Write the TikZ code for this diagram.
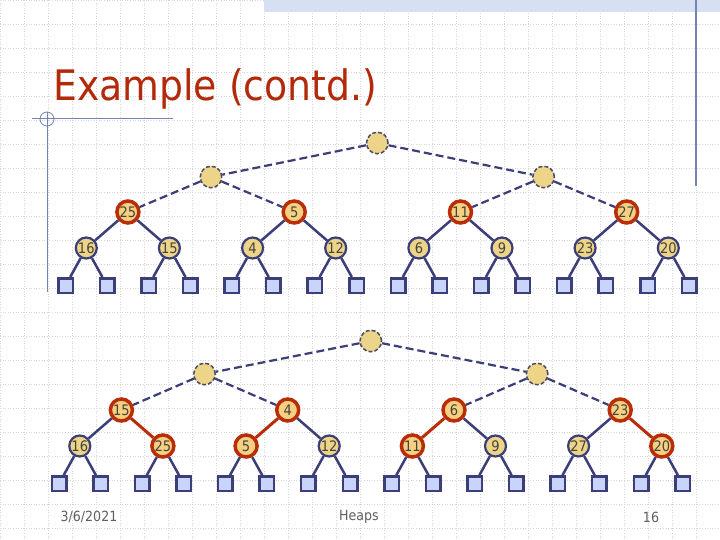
\documentclass[tikz,border=0pt]{standalone}
\usepackage{fontspec}
\setmainfont{DejaVu Sans}[FakeStretch=0.9]
\definecolor{heapnavy}{RGB}{60,62,120}
\definecolor{swapred}{RGB}{185,45,8}
\definecolor{nodefill}{RGB}{236,212,136}
\definecolor{swapfill}{RGB}{244,208,130}
\definecolor{leaffill}{RGB}{200,212,250}
\definecolor{ghostgray}{RGB}{75,75,100}
\definecolor{numgray}{RGB}{70,66,60}
\definecolor{titlered}{RGB}{178,42,10}
\definecolor{gridgray}{RGB}{214,214,220}
\definecolor{decoblue}{RGB}{115,132,178}
\definecolor{bandblue}{RGB}{214,224,242}
\begin{document}
\begin{tikzpicture}[x=1pt,y=-1pt,
  heapnode/.style={circle,draw=heapnavy,line width=2.2pt,fill=nodefill,minimum size=21pt,inner sep=0pt,text=numgray,font=\fontsize{14.5}{14.5}\selectfont},
  swapnode/.style={heapnode,draw=swapred,line width=3.5pt,fill=swapfill,minimum size=22pt},
  ghostnode/.style={circle,draw=ghostgray,dash pattern=on 4pt off 2pt,line width=1.5pt,fill=nodefill,minimum size=21.5pt},
  leafbox/.style={rectangle,draw=heapnavy,line width=2.5pt,fill=leaffill,minimum size=14.5pt,inner sep=0pt},
  treeedge/.style={draw=heapnavy,line width=2.5pt},
  swapedge/.style={draw=swapred,line width=3pt},
  ghostedge/.style={draw=heapnavy,line width=2.2pt,dash pattern=on 8pt off 4pt},
  gridline/.style={draw=gridgray,line width=0.7pt,dash pattern=on 1pt off 1.6pt},
  footnote/.style={text=numgray!85,font=\fontsize{14}{14}\selectfont,inner sep=0pt}]
\useasboundingbox (0,0) rectangle (720,540);
\fill[white] (0,0) rectangle (720,540);
% background grid and slide decoration
\foreach \gx in {0,24,...,720} \draw[gridline] (\gx,0) -- (\gx,540);
\foreach \gy in {0,24,...,528} \draw[gridline] (0,\gy) -- (720,\gy);
\fill[bandblue] (264,0) rectangle (720,12);
\draw[decoblue,line width=1.2pt] (696,0) -- (696,186);
\draw[decoblue,line width=1pt] (32,119) -- (173,119);
\draw[decoblue,line width=0.8pt] (47,119) circle (7);
\draw[decoblue,line width=1pt] (47,112) -- (47,292);
\node[anchor=base west,inner sep=0pt,text=titlered,font=\fontsize{42}{42}\selectfont] (title) at (53,101) {Example (contd.)};

% first heap
\node[ghostnode] (t1r) at (377.3,143) {};
\node[ghostnode] (t1a) at (211,177) {};
\node[ghostnode] (t1b) at (543.6,177) {};
\node[swapnode] (t1c1) at (127.9,212) {25};
\node[swapnode] (t1c2) at (294.2,212) {5};
\node[swapnode] (t1c3) at (460.5,212) {11};
\node[swapnode] (t1c4) at (626.7,212) {27};
\node[heapnode] (t1d1) at (86.3,248) {16};
\node[heapnode] (t1d2) at (169.4,248) {15};
\node[heapnode] (t1d3) at (252.6,248) {4};
\node[heapnode] (t1d4) at (335.7,248) {12};
\node[heapnode] (t1d5) at (418.9,248) {6};
\node[heapnode] (t1d6) at (502,248) {9};
\node[heapnode] (t1d7) at (585.1,248) {23};
\node[heapnode] (t1d8) at (668.3,248) {20};
\draw[ghostedge] (t1r) -- (t1a);
\draw[ghostedge] (t1r) -- (t1b);
\draw[ghostedge] (t1a) -- (t1c1);
\draw[ghostedge] (t1a) -- (t1c2);
\draw[ghostedge] (t1b) -- (t1c3);
\draw[ghostedge] (t1b) -- (t1c4);
\draw[treeedge] (t1c1) -- (t1d1);
\draw[treeedge] (t1c1) -- (t1d2);
\draw[treeedge] (t1c2) -- (t1d3);
\draw[treeedge] (t1c2) -- (t1d4);
\draw[treeedge] (t1c3) -- (t1d5);
\draw[treeedge] (t1c3) -- (t1d6);
\draw[treeedge] (t1c4) -- (t1d7);
\draw[treeedge] (t1c4) -- (t1d8);
\foreach \i in {1,...,8} {
  \path (t1d\i) ++(-20.8,37.5) node[leafbox] (t1l\i) {}
        (t1d\i) ++(20.8,37.5) node[leafbox] (t1m\i) {};
  \draw[treeedge] (t1d\i) -- (t1l\i);
  \draw[treeedge] (t1d\i) -- (t1m\i);
}

% second heap, after the swaps
\node[ghostnode] (t2r) at (370.8,341) {};
\node[ghostnode] (t2a) at (204.5,374) {};
\node[ghostnode] (t2b) at (537.1,374) {};
\node[swapnode] (t2c1) at (121.4,410) {15};
\node[swapnode] (t2c2) at (287.7,410) {4};
\node[swapnode] (t2c3) at (454,410) {6};
\node[swapnode] (t2c4) at (620.2,410) {23};
\node[heapnode] (t2d1) at (79.8,446) {16};
\node[swapnode] (t2d2) at (162.9,446) {25};
\node[swapnode] (t2d3) at (246.1,446) {5};
\node[heapnode] (t2d4) at (329.2,446) {12};
\node[swapnode] (t2d5) at (412.4,446) {11};
\node[heapnode] (t2d6) at (495.5,446) {9};
\node[heapnode] (t2d7) at (578.6,446) {27};
\node[swapnode] (t2d8) at (661.8,446) {20};
\draw[ghostedge] (t2r) -- (t2a);
\draw[ghostedge] (t2r) -- (t2b);
\draw[ghostedge] (t2a) -- (t2c1);
\draw[ghostedge] (t2a) -- (t2c2);
\draw[ghostedge] (t2b) -- (t2c3);
\draw[ghostedge] (t2b) -- (t2c4);
\draw[treeedge] (t2c1) -- (t2d1);
\draw[swapedge] (t2c1) -- (t2d2);
\draw[swapedge] (t2c2) -- (t2d3);
\draw[treeedge] (t2c2) -- (t2d4);
\draw[swapedge] (t2c3) -- (t2d5);
\draw[treeedge] (t2c3) -- (t2d6);
\draw[treeedge] (t2c4) -- (t2d7);
\draw[swapedge] (t2c4) -- (t2d8);
\foreach \i in {1,...,8} {
  \path (t2d\i) ++(-20.8,37.7) node[leafbox] (t2l\i) {}
        (t2d\i) ++(20.8,37.7) node[leafbox] (t2m\i) {};
  \draw[treeedge] (t2d\i) -- (t2l\i);
  \draw[treeedge] (t2d\i) -- (t2m\i);
}

% footer
\node[footnote] (date) at (89,517) {3/6/2021};
\node[footnote] (topic) at (359,517) {Heaps};
\node[footnote] (page) at (651,517) {16};
\end{tikzpicture}
\end{document}
